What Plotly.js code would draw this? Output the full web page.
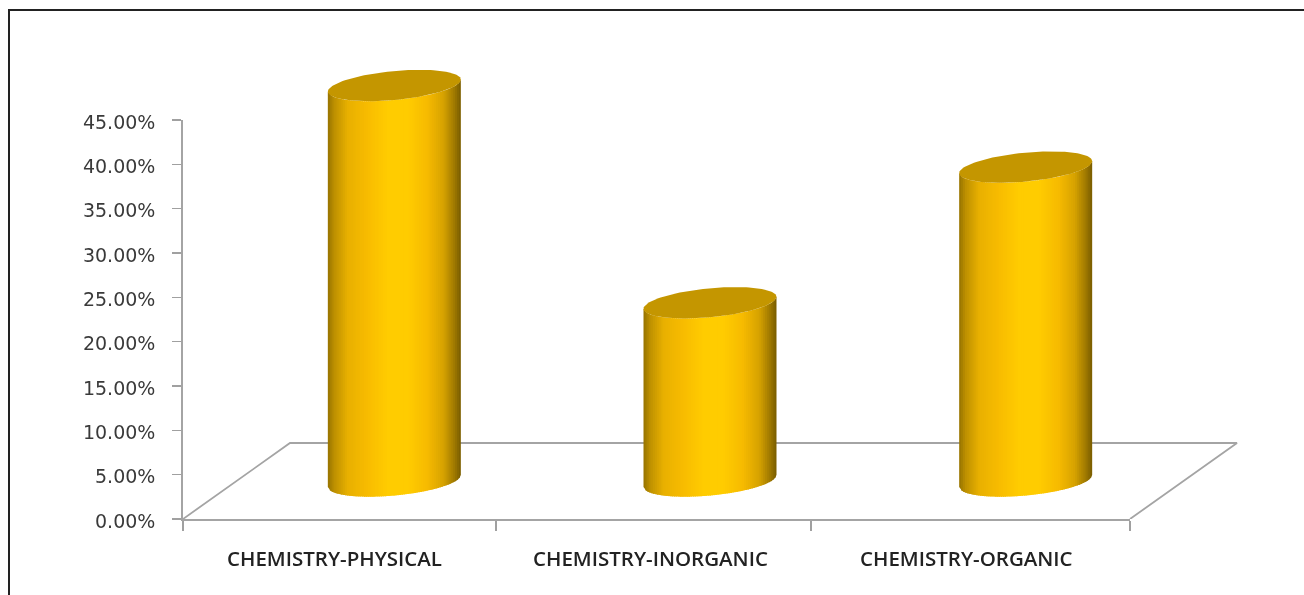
<!DOCTYPE html>
<html><head><meta charset="utf-8">
<script src="https://cdn.plot.ly/plotly-3.0.1.min.js"></script>
<style>html,body{margin:0;padding:0;background:#fff;overflow:hidden}#chart{width:1304px;height:595px;filter:blur(0.45px)}</style>
</head><body><div id="chart"></div>
<script>
const categories = ["CHEMISTRY-PHYSICAL", "CHEMISTRY-INORGANIC", "CHEMISTRY-ORGANIC"];
const values = [44.6, 20.1, 35.4];
const tickValues = [0, 5, 10, 15, 20, 25, 30, 35, 40, 45];
const tickLabels = ["0.00%", "5.00%", "10.00%", "15.00%", "20.00%", "25.00%", "30.00%", "35.00%", "40.00%", "45.00%"];
const xTickPositions = [0, 0.992, 1.99, 3];

// frame of the visible axes, in pixels
const L = 183, T = 120, R = 1130, B = 519, W = 1304, H = 595;
// frame of the whole drawing area, in pixels (holds the parts that stand out of the axes)
const PR = 1250, PT = 55;
const pxX = (R - L) / 3, pxY = (B - T) / 45;
// pseudo-3D geometry in axis units
const depthX = 107 / pxX, depthY = 76 / pxY;
const radiusX = 66.5 / pxX, tiltY = 6 / pxY, minorY = 14.5 / pxY;
const N = 70;

const stops = [[0, [150,115,0]], [0.05, [190,145,0]], [0.15, [232,176,0]], [0.3, [248,188,0]],
               [0.45, [255,204,0]], [0.6, [255,204,0]], [0.75, [246,186,0]], [0.87, [214,162,0]],
               [0.95, [160,122,0]], [1, [120,92,0]]];
function shade(u) {
  for (let i = 1; i < stops.length; i++) {
    if (u <= stops[i][0]) {
      const a = stops[i-1], b = stops[i], f = (u - a[0]) / (b[0] - a[0]);
      const c = a[1].map((v, k) => Math.round(v + (b[1][k] - v) * f));
      return `rgb(${c[0]},${c[1]},${c[2]})`;
    }
  }
  return "rgb(120,92,0)";
}

const traces = [];
// keeps the visible axis pair alive
traces.push({x: [0, 3], y: [0, 45], mode: "none", xaxis: "x", yaxis: "y", hoverinfo: "skip"});
// floor
traces.push({x: [0, depthX, 3 + depthX, 3], y: [0, depthY, depthY, 0], mode: "lines", xaxis: "x2", yaxis: "y2",
  line: {color: "#a4a4a4", width: 1.8}, hoverinfo: "skip"});

categories.forEach((name, i) => {
  const cx = i + 0.5 + depthX / 2, base = depthY / 2, top = base + values[i];
  const frontY = (c, s) => c + tiltY * s - minorY * Math.sqrt(Math.max(0, 1 - s * s));
  for (let k = 0; k < N; k++) {
    const s0 = -1 + 2 * k / N, s1 = Math.min(1, -1 + 2 * (k + 1.6) / N);
    const sx0 = cx + radiusX * s0, sx1 = cx + radiusX * s1;
    traces.push({
      x: [sx0, sx1, sx1, sx0, sx0],
      y: [frontY(base, s0), frontY(base, s1), frontY(top, s1), frontY(top, s0), frontY(base, s0)],
      mode: "lines", fill: "toself", fillcolor: shade((k + 0.5) / N), xaxis: "x2", yaxis: "y2",
      line: {width: 0}, hoverinfo: "skip"
    });
  }
  const ex = [], ey = [];
  for (let k = 0; k <= 120; k++) {
    const t = 2 * Math.PI * k / 120;
    ex.push(cx + radiusX * Math.cos(t));
    ey.push(top + tiltY * Math.cos(t) + minorY * Math.sin(t));
  }
  traces.push({x: ex, y: ey, mode: "lines", fill: "toself", fillcolor: "#c49600", xaxis: "x2", yaxis: "y2",
    line: {width: 0}, hovertext: name + ": " + values[i].toFixed(2) + "%", hoverinfo: "text"});
});

const paperX = (R - L) / (PR - L), paperY = (B - T) / (B - PT);
const toPaperX = px => (px - L) / (PR - L), toPaperY = py => (B - py) / (B - PT);

const layout = {
  width: W, height: H, showlegend: false, paper_bgcolor: "#fff", plot_bgcolor: "rgba(0,0,0,0)",
  margin: {l: L, r: W - PR, t: PT, b: H - B, pad: 0},
  font: {family: "'DejaVu Sans', sans-serif", color: "#333"},
  xaxis: {domain: [0, paperX], range: [0, 3], tickmode: "array", tickvals: xTickPositions, ticktext: ["", "", "", ""],
    ticks: "outside", ticklen: 10, tickwidth: 1.6, tickcolor: "#a0a0a0",
    showgrid: false, zeroline: false, showline: true, linecolor: "#a4a4a4", linewidth: 1.8},
  yaxis: {domain: [0, paperY], range: [0, 45], tickmode: "array", tickvals: tickValues, ticktext: tickLabels,
    ticks: "outside", ticklen: 9, tickwidth: 1.6, tickcolor: "#a0a0a0", ticklabelstandoff: 13, ticklabelshift: 2,
    tickfont: {size: 19, color: "#3a3a3a"},
    showgrid: false, zeroline: false, showline: true, linecolor: "#a4a4a4", linewidth: 1.8},
  xaxis2: {domain: [0, 1], range: [0, 3 / paperX], visible: false, anchor: "y2"},
  yaxis2: {domain: [0, 1], range: [0, 45 / paperY], visible: false, anchor: "x2"},
  annotations: categories.map((c, i) => ({
    text: c, x: i + 0.5, xref: "x", y: toPaperY(558), yref: "paper", xshift: -6,
    showarrow: false, xanchor: "center", yanchor: "middle",
    font: {family: "'Open Sans', sans-serif", size: 20.5, weight: 600, color: "#222"}
  })),
  shapes: [{type: "path", xref: "paper", yref: "paper",
    path: `M ${toPaperX(9)} ${toPaperY(H)} L ${toPaperX(9)} ${toPaperY(10)} L ${toPaperX(W)} ${toPaperY(10)}`,
    line: {color: "#222", width: 2}}]
};
Plotly.newPlot("chart", traces, layout, {displayModeBar: false, staticPlot: true});
</script></body></html>
